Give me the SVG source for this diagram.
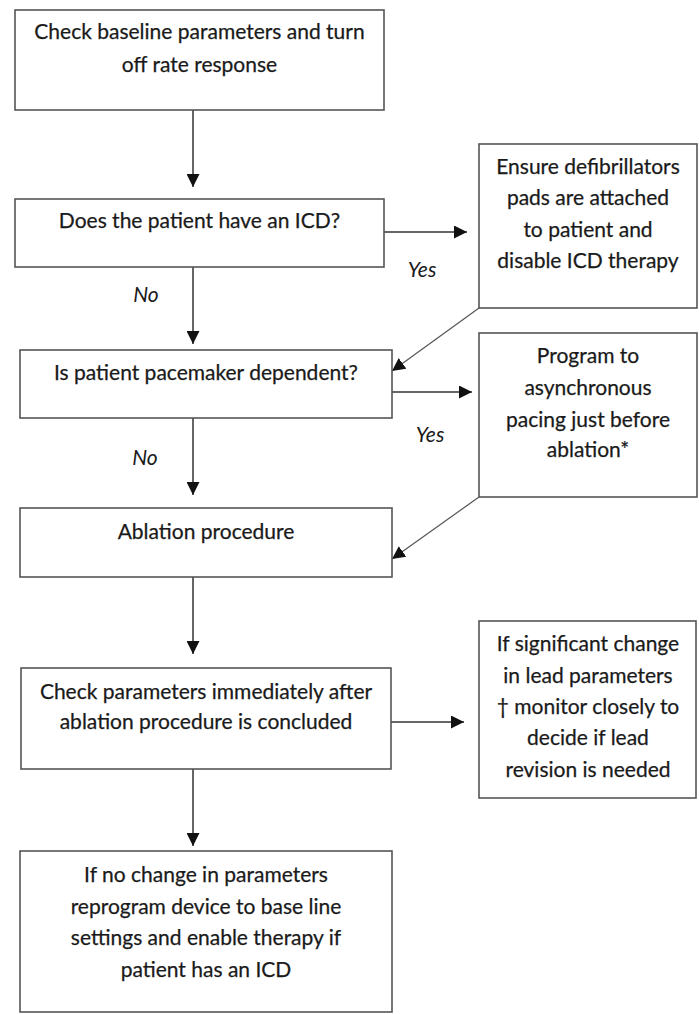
<svg xmlns="http://www.w3.org/2000/svg" width="699" height="1014" viewBox="0 0 699 1014">
<style>
.box{fill:#fff;stroke:#555;stroke-width:1.6}
.t{font-family:Lato,"Open Sans","DejaVu Sans",sans-serif;font-size:21px;fill:#1a1a1a;stroke:#1a1a1a;stroke-width:0.25;text-anchor:middle}
.lbl{font-family:Lato,"Open Sans","DejaVu Sans",sans-serif;font-size:21px;fill:#1a1a1a;font-style:italic;text-anchor:middle}
.c{stroke:#333;stroke-width:1.5;fill:none}
.d{stroke:#555;stroke-width:1.2;fill:none}
</style>
<defs>
<marker id="ahb" viewBox="0 0 10 10" refX="10" refY="5" markerWidth="13" markerHeight="13" markerUnits="userSpaceOnUse" orient="auto">
<path d="M0,0 L10,5 L0,10 z" fill="#111"/>
</marker>
</defs>
<rect width="699" height="1014" fill="#fff"/>
<g id="connectors">
<line class="c" x1="193" y1="110" x2="193" y2="187" marker-end="url(#ahb)"/>
<line class="c" x1="193" y1="267" x2="193" y2="344" marker-end="url(#ahb)"/>
<line class="c" x1="193" y1="418" x2="193" y2="495" marker-end="url(#ahb)"/>
<line class="c" x1="193" y1="577" x2="193" y2="654" marker-end="url(#ahb)"/>
<line class="c" x1="193" y1="769" x2="193" y2="846" marker-end="url(#ahb)"/>
<line class="c" x1="384" y1="232" x2="467" y2="232" marker-end="url(#ahb)"/>
<line class="c" x1="392" y1="392" x2="472" y2="392" marker-end="url(#ahb)"/>
<line class="c" x1="391" y1="722" x2="464" y2="722" marker-end="url(#ahb)"/>
<line class="d" x1="479" y1="308" x2="392" y2="371" marker-end="url(#ahb)"/>
<line class="d" x1="479" y1="497" x2="392" y2="559" marker-end="url(#ahb)"/>
<text class="lbl" x="146" y="302">No</text>
<text class="lbl" x="145" y="465">No</text>
<text class="lbl" x="422" y="277">Yes</text>
<text class="lbl" x="430" y="442">Yes</text>
</g>
<g id="n1">
<rect class="box" x="15" y="10" width="369" height="100"/>
<text class="t" x="199.5" y="39">Check baseline parameters and turn</text>
<text class="t" x="199.5" y="72">off rate response</text>
</g>
<g id="n2">
<rect class="box" x="15" y="199" width="369" height="68"/>
<text class="t" x="199.5" y="228">Does the patient have an ICD?</text>
</g>
<g id="n3">
<rect class="box" x="479" y="144" width="218" height="164"/>
<text class="t" x="588" y="174">Ensure defibrillators</text>
<text class="t" x="588" y="205">pads are attached</text>
<text class="t" x="588" y="237">to patient and</text>
<text class="t" x="588" y="268">disable ICD therapy</text>
</g>
<g id="n4">
<rect class="box" x="20" y="350" width="372" height="68"/>
<text class="t" x="206" y="380">Is patient pacemaker dependent?</text>
</g>
<g id="n5">
<rect class="box" x="479" y="333" width="218" height="164"/>
<text class="t" x="588" y="363">Program to</text>
<text class="t" x="588" y="395">asynchronous</text>
<text class="t" x="588" y="427">pacing just before</text>
<text class="t" x="588" y="457">ablation*</text>
</g>
<g id="n6">
<rect class="box" x="20" y="508" width="372" height="69"/>
<text class="t" x="206" y="539">Ablation procedure</text>
</g>
<g id="n7">
<rect class="box" x="21" y="668" width="370" height="101"/>
<text class="t" x="206" y="699">Check parameters immediately after</text>
<text class="t" x="206" y="729">ablation procedure is concluded</text>
</g>
<g id="n8">
<rect class="box" x="479" y="621" width="217" height="177"/>
<text class="t" x="588" y="651">If significant change</text>
<text class="t" x="588" y="683">in lead parameters</text>
<text class="t" x="588" y="714">† monitor closely to</text>
<text class="t" x="588" y="745">decide if lead</text>
<text class="t" x="588" y="777">revision is needed</text>
</g>
<g id="n9">
<rect class="box" x="20" y="851" width="372" height="161"/>
<text class="t" x="206" y="882">If no change in parameters</text>
<text class="t" x="206" y="914">reprogram device to base line</text>
<text class="t" x="206" y="945">settings and enable therapy if</text>
<text class="t" x="206" y="977">patient has an ICD</text>
</g>
</svg>
